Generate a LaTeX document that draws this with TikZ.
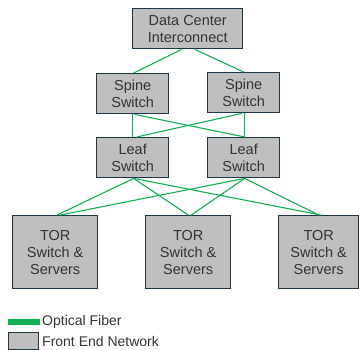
\documentclass[tikz,border=0pt]{standalone}
\usepackage{fontspec}
\setmainfont{Liberation Sans}
\definecolor{boxfill}{HTML}{BFBFBF}
\definecolor{boxline}{HTML}{1E3745}
\definecolor{fiber}{HTML}{12B050}
\definecolor{txt}{HTML}{333333}
\begin{document}
\begin{tikzpicture}[x=1pt,y=-1pt,
  netbox/.style={draw=boxline,fill=boxfill,line width=1.4pt,align=center,
    text=txt,font=\fontsize{14.5}{17}\selectfont,inner sep=0pt,anchor=north west},
  legtext/.style={anchor=west,text=txt,font=\fontsize{14}{16}\selectfont,inner sep=0pt},
  link/.style={draw=fiber,line width=1.1pt}]
\useasboundingbox (0,0) rectangle (359,349);
\node[netbox,minimum width=110pt,minimum height=40pt] (dci) at (132,8) {Data Center\\Interconnect};
\node[netbox,minimum width=72pt,minimum height=40pt] (sp1) at (96,73) {Spine\\Switch};
\node[netbox,minimum width=72pt,minimum height=40pt] (sp2) at (207,72) {Spine\\Switch};
\node[netbox,minimum width=72pt,minimum height=40pt] (lf1) at (96,137) {Leaf\\Switch};
\node[netbox,minimum width=72pt,minimum height=40pt] (lf2) at (207,137) {Leaf\\Switch};
\node[netbox,minimum width=85pt,minimum height=73pt] (t1) at (12,215) {TOR\\Switch \&\\Servers};
\node[netbox,minimum width=85pt,minimum height=73pt] (t2) at (145,215) {TOR\\Switch \&\\Servers};
\node[netbox,minimum width=80pt,minimum height=73pt] (t3) at (278,215) {TOR\\Switch \&\\Servers};
% connectors
\draw[link] ([xshift=-6pt]dci.south) -- ([xshift=1pt]sp1.north);
\draw[link] ([xshift=7pt]dci.south) -- (sp2.north);
\draw[link] (sp1.south) -- (lf1.north);
\draw[link] ([xshift=2pt]sp1.south) -- ([xshift=1pt]lf2.north);
\draw[link] ([xshift=-2pt]sp2.south) -- ([xshift=4pt]lf1.north);
\draw[link] ([xshift=1pt]sp2.south) -- ([xshift=1pt]lf2.north);
\draw[link] ([xshift=1pt]lf1.south) -- ([xshift=2pt]t1.north);
\draw[link] ([xshift=1pt]lf1.south) -- (t2.north);
\draw[link] ([xshift=1pt]lf1.south) -- ([xshift=2pt]t3.north);
\draw[link] ([xshift=1pt]lf2.south) -- ([xshift=5pt]t1.north);
\draw[link] ([xshift=1pt]lf2.south) -- ([xshift=3pt]t2.north);
\draw[link] ([xshift=1pt]lf2.south) -- (t3.north);
% legend
\coordinate (lgA) at (8,322);
\coordinate (lgB) at (40,322);
\draw[fiber,line width=5.5pt] (lgA) -- (lgB);
\node[legtext] (lg1) at (42,322) {Optical Fiber};
\node[draw=boxline,fill=boxfill,line width=1.4pt,minimum width=30pt,minimum height=17pt,inner sep=0pt,anchor=north west] (lgbox) at (8,332) {};
\node[legtext] (lg2) at (42,341) {Front End Network};
\end{tikzpicture}
\end{document}
